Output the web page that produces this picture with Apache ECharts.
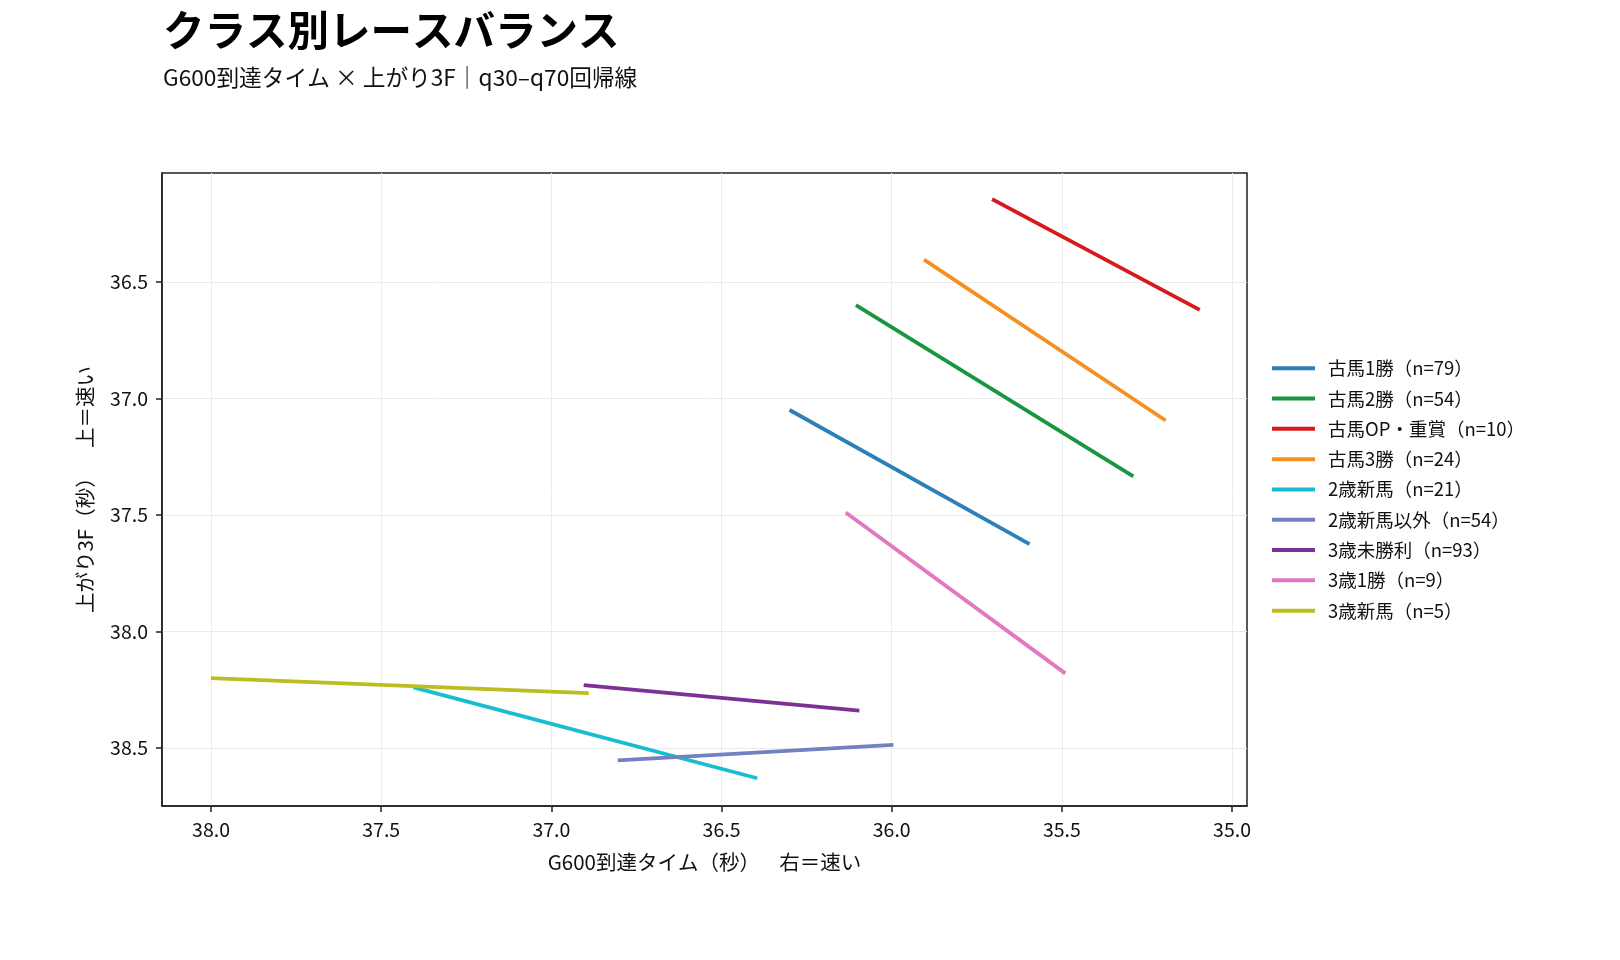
<!DOCTYPE html>
<html>
<head>
<meta charset="utf-8">
<script src="https://cdn.jsdelivr.net/npm/echarts@6/dist/echarts.min.js"></script>
<style>
html, body { margin: 0; padding: 0; background: #fff; }
#chart { width: 1620px; height: 960px; }
</style>
</head>
<body>
<div id="chart"></div>
<script>
// クラス名（凡例）
let classNames = ['古馬1勝（n=79）', '古馬2勝（n=54）', '古馬OP・重賞（n=10）', '古馬3勝（n=24）',
    '2歳新馬（n=21）', '2歳新馬以外（n=54）', '3歳未勝利（n=93）', '3歳1勝（n=9）', '3歳新馬（n=5）'];
// 回帰線の端点 q30 / q70 (G600到達タイム, 上がり3F)
let g600Start = [36.30, 36.105, 35.705, 35.905, 37.405, 36.805, 36.905, 36.135, 38.0];
let last3fStart = [37.05, 36.60, 36.145, 36.405, 38.24, 38.553, 38.23, 37.49, 38.20];
let g600End = [35.595, 35.29, 35.095, 35.195, 36.395, 35.995, 36.095, 35.49, 36.89];
let last3fEnd = [37.625, 37.335, 36.62, 37.095, 38.63, 38.487, 38.34, 38.18, 38.265];
// 目盛
let xTicks = [35.0, 35.5, 36.0, 36.5, 37.0, 37.5, 38.0];
let yTicks = [36.5, 37.0, 37.5, 38.0, 38.5];

let colors = ['#2c7fb8', '#1a9641', '#d7191c', '#f5901e', '#17becf', '#7281c0', '#7b3294', '#e377c2', '#bcbd22'];
let font = 'Noto Sans CJK JP';

let chart = echarts.init(document.getElementById('chart'));

let series = classNames.map(function (name, i) {
    return {
        name: name,
        type: 'line',
        symbol: 'none',
        data: [[g600Start[i], last3fStart[i]], [g600End[i], last3fEnd[i]]],
        lineStyle: { width: 3.8, color: colors[i] },
        itemStyle: { color: colors[i] }
    };
});

chart.setOption({
    animation: false,
    textStyle: { fontFamily: font },
    title: [{
        text: 'クラス別レースバランス',
        left: 158,
        top: 4,
        textStyle: { fontSize: 41.5, fontWeight: 'bold', color: '#000', fontFamily: font }
    }, {
        text: 'G600到達タイム × 上がり3F｜q30–q70回帰線',
        left: 158,
        top: 61,
        textStyle: { fontSize: 22.7, fontWeight: 'normal', color: '#111', fontFamily: font }
    }],
    legend: {
        orient: 'vertical',
        left: 1267,
        top: 354,
        itemWidth: 43,
        itemHeight: 14,
        itemGap: 11.8,
        data: classNames.map(function (n, i) {
            return { name: n, icon: 'path://M0,0 L43,0 L43,4 L0,4 Z', itemStyle: { color: colors[i] } };
        }),
        textStyle: { fontSize: 18.5, color: '#111', fontFamily: font, padding: [0, 0, 0, 8] }
    },
    grid: {
        left: 162,
        right: 373,
        top: 173,
        bottom: 154,
        show: true,
        borderColor: '#222',
        borderWidth: 1.5
    },
    xAxis: {
        type: 'value',
        inverse: true,
        min: 34.956,
        max: 38.144,
        name: 'G600到達タイム（秒）　  右＝速い',
        nameLocation: 'middle',
        nameGap: 46,
        nameTextStyle: { fontSize: 20.5, color: '#111', fontFamily: font },
        axisLine: { show: true, lineStyle: { color: '#222', width: 1.5 } },
        axisTick: { show: true, length: 6, customValues: xTicks, lineStyle: { color: '#222', width: 1.5 } },
        axisLabel: {
            customValues: xTicks,
            margin: 14,
            fontSize: 19.5,
            color: '#111',
            formatter: function (v) { return v.toFixed(1); }
        },
        splitLine: { show: true, lineStyle: { color: '#ebebeb', width: 1 } }
    },
    yAxis: {
        type: 'value',
        inverse: true,
        min: 36.033,
        max: 38.749,
        name: '上がり3F（秒）　  上＝速い',
        nameLocation: 'middle',
        nameGap: 67,
        nameTextStyle: { fontSize: 20.5, color: '#111', fontFamily: font },
        axisLine: { show: true, lineStyle: { color: '#222', width: 1.5 } },
        axisTick: { show: true, length: 6, customValues: yTicks, lineStyle: { color: '#222', width: 1.5 } },
        axisLabel: {
            customValues: yTicks,
            margin: 14,
            fontSize: 19.5,
            color: '#111',
            formatter: function (v) { return v.toFixed(1); }
        },
        splitLine: { show: true, lineStyle: { color: '#ebebeb', width: 1 } }
    },
    series: series
});
</script>
</body>
</html>
